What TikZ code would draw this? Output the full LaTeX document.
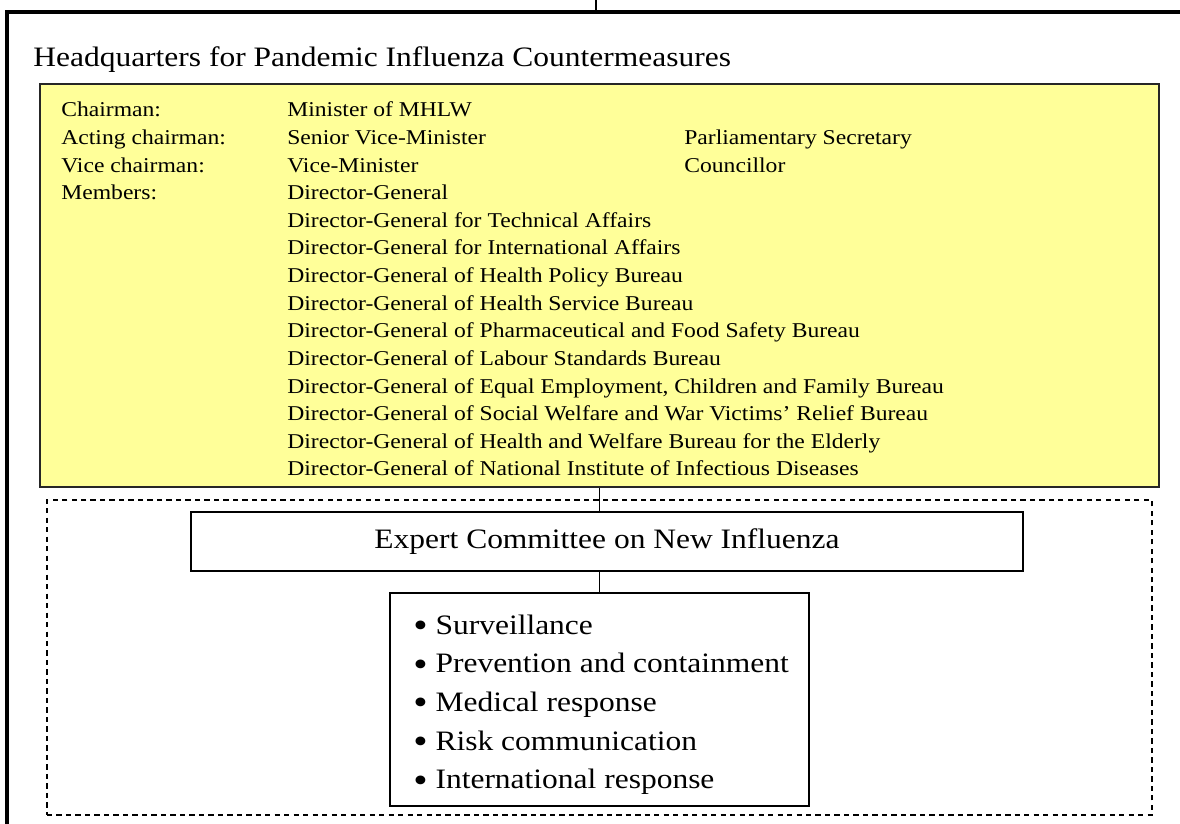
\documentclass[tikz,border=0pt]{standalone}
\usepackage{fontspec}
\setmainfont{Liberation Serif}[FakeStretch=1.12]
\usepackage{xcolor}
\usetikzlibrary{fit}

\definecolor{hqyellow}{HTML}{FFFF99}

\begin{document}
\begin{tikzpicture}[x=0.02cm,y=-0.02cm,
        outerline/.style={line width=2.2pt},
        hqbox/.style={draw=black!85,fill=hqyellow,line width=0.9pt,inner sep=0pt},
        panel/.style={draw,dash pattern=on 3pt off 2.4pt,line width=0.7pt,inner sep=0pt},
        plainbox/.style={draw,line width=1pt,inner sep=0pt},
        entry/.style={anchor=base west,inner sep=0pt,font=\fontsize{12}{14}\selectfont},
        task/.style={anchor=base west,inner sep=0pt,font=\fontsize{16}{19}\selectfont},
        link/.style={line width=0.7pt}]
        \useasboundingbox (0,0) rectangle (1180,824);

        % Outer frame
        \draw[outerline] (7,824) -- (7,12) -- (1180,12);
        \draw[line width=1.3pt] (596,0) -- (596,12);

        % Headquarters
        \node[anchor=base west,inner sep=0pt,font=\fontsize{16}{19}\selectfont] (title) at (33,67) {Headquarters for Pandemic Influenza Countermeasures};
        \node[hqbox,fit={(40,84) (1159,487)}] (hq) {};

        \foreach \role [count=\i from 0] in {Chairman:, Acting chairman:, Vice chairman:, Members:}
            \node[entry] (role\i) at (61,117+27.6*\i) {\role};
        \foreach \post [count=\i from 0] in {Minister of MHLW, Senior Vice-Minister, Vice-Minister, Director-General,
                Director-General for Technical Affairs, Director-General for International Affairs,
                Director-General of Health Policy Bureau, Director-General of Health Service Bureau,
                Director-General of Pharmaceutical and Food Safety Bureau, Director-General of Labour Standards Bureau,
                {Director-General of Equal Employment, Children and Family Bureau},
                Director-General of Social Welfare and War Victims’ Relief Bureau,
                Director-General of Health and Welfare Bureau for the Elderly,
                Director-General of National Institute of Infectious Diseases}
            \node[entry] (post\i) at (287,117+27.6*\i) {\post};
        \node[entry] (deputy1) at (684,144.6) {Parliamentary Secretary};
        \node[entry] (deputy2) at (684,172.2) {Councillor};

        % Expert committee
        \node[panel,fit={(47,500) (1152,815)}] (panel) {};
        \node[plainbox,minimum width=16.64cm,minimum height=1.18cm,font=\fontsize{16}{19}\selectfont] (expert) at (607,541.5) {Expert Committee on New Influenza};
        \node[plainbox,fit={(390,593) (809,806)}] (tasks) {};
        \foreach \task [count=\i from 0] in {Surveillance, Prevention and containment, Medical response, Risk communication, International response}
            \node[task] (task\i) at (413,634+38.7*\i) {\raisebox{-0.12em}{\scalebox{1.3}{\textbullet}}\ \task};

        % Links
        \draw[link] (hq.south) -- (hq.south |- expert.north);
        \draw[link] (tasks.north |- expert.south) -- (tasks.north);
\end{tikzpicture}
\end{document}
